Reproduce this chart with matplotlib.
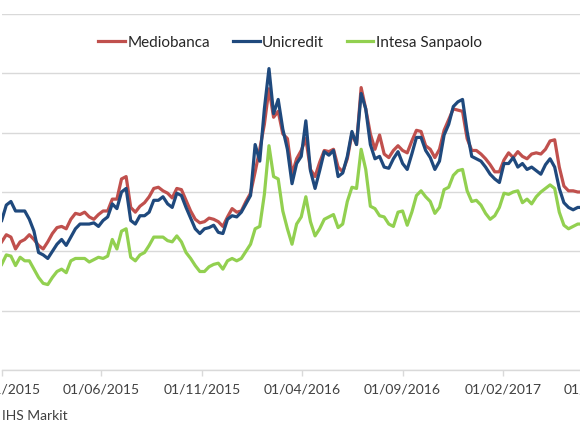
import matplotlib
matplotlib.use("Agg")
import matplotlib.pyplot as plt
import matplotlib.dates as mdates
import pandas as pd

# ---- data (weekly observations, 5y CDS spreads, bp) ----
start_date = "2015-01-01"
n_obs = 127
dates = pd.date_range(start_date, periods=n_obs, freq="7D")

mediobanca = [108, 114, 112, 102, 108, 110, 114, 110, 105, 102, 108, 115, 120, 121, 119, 127,
              132, 131, 133, 129, 127, 131, 134, 134, 144, 144, 161, 163, 137, 133, 138, 141,
              146, 153, 154, 151, 149, 145, 153, 152, 143, 134, 127, 124, 125, 128, 127, 125,
              121, 129, 136, 133, 134, 142, 149, 167, 186, 207, 237, 213, 218, 199, 195, 165,
              178, 185, 195, 169, 163, 175, 185, 184, 186, 171, 167, 178, 199, 190, 238, 220,
              199, 186, 198, 182, 179, 185, 189, 185, 183, 193, 202, 201, 189, 186, 179, 186,
              202, 211, 220, 219, 218, 195, 185, 185, 182, 178, 173, 167, 167, 177, 183, 179,
              184, 180, 178, 182, 183, 182, 186, 193, 194, 171, 155, 151, 151, 150, 150]

unicredit = [126, 139, 142, 134, 134, 134, 127, 117, 99, 97, 94, 100, 106, 110, 105, 112,
             119, 123, 123, 123, 124, 121, 126, 129, 140, 136, 150, 153, 126, 123, 130, 130,
             133, 143, 143, 146, 140, 137, 149, 147, 137, 128, 119, 115, 119, 120, 122, 116,
             115, 127, 130, 129, 133, 140, 147, 190, 176, 220, 254, 216, 228, 203, 186, 157,
             174, 180, 210, 168, 153, 168, 184, 181, 185, 163, 166, 180, 201, 190, 233, 220,
             190, 178, 180, 171, 170, 178, 184, 174, 169, 182, 196, 196, 185, 179, 169, 176,
             198, 207, 222, 226, 228, 201, 180, 178, 176, 171, 165, 161, 158, 174, 174, 179,
             171, 174, 169, 171, 168, 165, 173, 178, 171, 153, 141, 137, 135, 137, 137]

intesa = [89, 97, 96, 88, 95, 92, 92, 85, 78, 73, 72, 78, 83, 85, 82, 92,
          94, 94, 94, 91, 93, 95, 94, 96, 110, 102, 117, 119, 95, 92, 97, 99,
          105, 112, 112, 112, 109, 108, 113, 108, 99, 94, 88, 83, 83, 87, 89, 90,
          85, 92, 94, 92, 94, 100, 106, 119, 121, 148, 189, 163, 161, 134, 119, 106,
          123, 129, 146, 125, 113, 119, 127, 129, 131, 120, 123, 142, 154, 153, 186, 169,
          138, 136, 130, 129, 123, 121, 133, 134, 122, 133, 147, 151, 146, 142, 132, 137,
          152, 154, 164, 168, 169, 151, 142, 143, 139, 132, 127, 130, 137, 149, 148, 150,
          151, 141, 144, 140, 146, 150, 153, 156, 153, 133, 122, 119, 121, 123, 123]

series_names = ["Mediobanca", "Unicredit", "Intesa Sanpaolo"]
series_values = [mediobanca, unicredit, intesa]
series_colors = ["#C0504D", "#1F497D", "#92D050"]

tick_dates = ["2015-01-01", "2015-06-01", "2015-11-01", "2016-04-01",
              "2016-09-01", "2017-02-01", "2017-07-01"]
y_ticks = [0, 50, 100, 150, 200, 250, 300]
source_text = "IHS Markit"

# ---- figure ----
plt.rcParams["font.family"] = ["Lato", "DejaVu Sans"]
W, H = 580, 435
fig = plt.figure(figsize=(W / 100, H / 100), dpi=100)

# axes extends past the right edge of the (cropped) figure
ax_left_px, ax_right_px = 1.7, 640.0
ax_bottom_px, ax_top_px = 371.0, 15.0
ax = fig.add_axes([ax_left_px / W, 1 - ax_bottom_px / H,
                   (ax_right_px - ax_left_px) / W, (ax_bottom_px - ax_top_px) / H])

for name, vals, col in zip(series_names, series_values, series_colors):
    ax.plot(dates, vals, color=col, lw=2.3, label=name, solid_joinstyle="round")

x0 = mdates.date2num(pd.Timestamp(start_date))
ax.set_xlim(x0, x0 + 969.6)
ax.set_ylim(y_ticks[0], y_ticks[-1])
ax.set_yticks(y_ticks)
ax.set_xticks([mdates.date2num(pd.Timestamp(d)) for d in tick_dates])
ax.xaxis.set_major_formatter(mdates.DateFormatter("%d/%m/%Y"))

grid_col = "#D9D9D9"
ax.grid(axis="y", color=grid_col, lw=1.0)
ax.set_axisbelow(True)
for s in ["top", "right", "left"]:
    ax.spines[s].set_visible(False)
ax.spines["bottom"].set_color(grid_col)
ax.spines["bottom"].set_linewidth(1.0)
ax.tick_params(axis="y", left=False, labelleft=False)
ax.tick_params(axis="x", direction="out", length=4, width=1, color=grid_col,
               labelsize=10, labelcolor="#404040", pad=5)

leg = fig.legend(loc="center", bbox_to_anchor=(0.5, 1 - 43 / H), ncol=3,
                 frameon=False, fontsize=11, handlelength=1.75, handletextpad=0.15,
                 columnspacing=1.5, labelcolor="#262626")
for lh in leg.get_lines():
    lh.set_linewidth(2.3)

fig.text(2 / W, 1 - 416 / H, source_text, ha="left", va="center",
         fontsize=10, color="#404040")

fig.savefig("out.png", dpi=100)
